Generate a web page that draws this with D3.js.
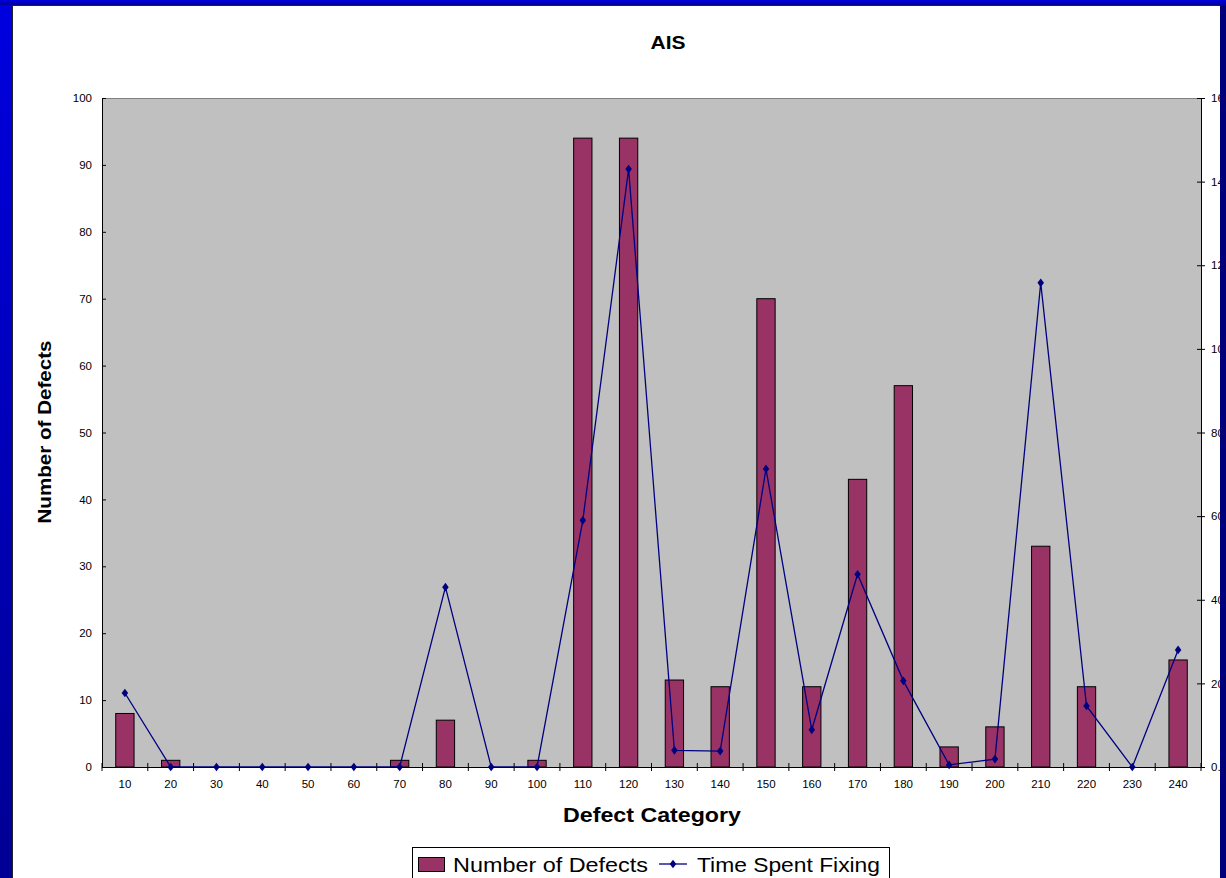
<!DOCTYPE html>
<html>
<head>
<meta charset="utf-8">
<script src="https://cdnjs.cloudflare.com/ajax/libs/d3/7.8.5/d3.min.js"></script>
<style>
    body { margin: 0; overflow: hidden; }
    svg { display: block; }
    text { font-family: "Liberation Sans", Arial, sans-serif; }
</style>
</head>
<body>
<div id="chart-area"></div>
<script>
// data
const categories = [10, 20, 30, 40, 50, 60, 70, 80, 90, 100, 110, 120,
    130, 140, 150, 160, 170, 180, 190, 200, 210, 220, 230, 240]
const defects = [8, 1, 0, 0, 0, 0, 1, 7, 0, 1, 94, 94,
    13, 12, 70, 12, 43, 57, 3, 6, 33, 12, 0, 16]
const timeSpent = [17.7, 0, 0, 0, 0, 0, 0, 43, 0, 0, 59, 143,
    4, 3.8, 71.3, 8.9, 46.1, 20.6, 0.5, 1.9, 115.8, 14.6, 0, 28]
const leftTicks = [0, 10, 20, 30, 40, 50, 60, 70, 80, 90, 100]
const rightTicks = [0, 20, 40, 60, 80, 100, 120, 140, 160]
const rightTickLabels = ['0.0', '20.0', '40.0', '60.0', '80.0', '100.0', '120.0', '140.0', '160.0']

const canvas = { width: 1226, height: 878 }
const margin = { left: 102, top: 98 }
const group = { width: 1099, height: 669 }

let svg = d3.select('#chart-area')
    .append('svg')
    .attr('width', canvas.width)
    .attr('height', canvas.height)

// blue slide background
let grad = svg.append('defs').append('linearGradient')
    .attr('id', 'bg').attr('x1', 0).attr('y1', 0).attr('x2', 0).attr('y2', 1)
grad.append('stop').attr('offset', '0%').attr('stop-color', '#0000e0')
grad.append('stop').attr('offset', '100%').attr('stop-color', '#000094')
svg.append('rect')
    .attr('width', canvas.width).attr('height', canvas.height)
    .attr('fill', 'url(#bg)')

// white chart panel
svg.append('rect')
    .attr('x', 12.5).attr('y', 5.5)
    .attr('width', 1208).attr('height', 900)
    .attr('fill', '#fff')
    .attr('stroke', '#222')

let g = svg.append('g')
    .attr('transform', `translate(${margin.left},${margin.top})`)

// scales
let scaleX = d3.scaleBand()
    .domain(categories)
    .range([0, group.width])

let scaleY = d3.scaleLinear()
    .domain([0, 100])
    .range([group.height, 0])

let scaleY2 = d3.scaleLinear()
    .domain([0, 160])
    .range([group.height, 0])

// plot area
g.append('rect')
    .attr('width', group.width).attr('height', group.height)
    .attr('fill', '#c0c0c0')
g.append('line')
    .attr('x1', 0).attr('x2', group.width)
    .attr('y1', 0.5).attr('y2', 0.5)
    .attr('stroke', '#808080')

// bars
let barW = scaleX.bandwidth() * 0.4
g.selectAll('rect.bar')
    .data(categories)
    .enter()
    .append('rect')
    .attr('class', 'bar')
    .attr('x', (d, i) => scaleX(d) + (scaleX.bandwidth() - barW) / 2)
    .attr('y', (d, i) => scaleY(defects[i]))
    .attr('width', barW)
    .attr('height', (d, i) => group.height - scaleY(defects[i]))
    .attr('fill', '#993366')
    .attr('stroke', '#000')
    .attr('stroke-width', 1)

// line
let cx = d => scaleX(d) + scaleX.bandwidth() / 2
let line = d3.line()
    .x((d, i) => cx(categories[i]))
    .y(d => scaleY2(d))
g.append('path')
    .datum(timeSpent)
    .attr('d', line)
    .attr('fill', 'none')
    .attr('stroke', '#000080')
    .attr('stroke-width', 1.3)

let diamond = d3.symbol().type(d3.symbolDiamond).size(22)
g.selectAll('path.pt')
    .data(timeSpent)
    .enter()
    .append('path')
    .attr('class', 'pt')
    .attr('d', diamond)
    .attr('transform', (d, i) => `translate(${cx(categories[i])},${scaleY2(d)}) scale(1.3,1)`)
    .attr('fill', '#000080')

// axes
function styleAxis(sel) {
    sel.select('.domain').attr('stroke', '#000')
    sel.selectAll('.tick line').attr('stroke', '#000')
    sel.selectAll('.tick text')
        .attr('fill', '#000')
        .attr('font-size', 11.5)
        .attr('font-family', '"Liberation Sans", Arial, sans-serif')
}

let yAxis = d3.axisLeft(scaleY)
    .tickValues(leftTicks)
    .tickSizeInner(4).tickSizeOuter(0).tickPadding(6)
let yg = g.append('g').call(yAxis).call(styleAxis)
yg.selectAll('.tick line').attr('x2', 4)

let yAxis2 = d3.axisRight(scaleY2)
    .tickValues(rightTicks)
    .tickFormat((d, i) => rightTickLabels[i])
    .tickSizeInner(4).tickSizeOuter(0).tickPadding(6)
let yg2 = g.append('g')
    .attr('transform', `translate(${group.width},0)`)
    .call(yAxis2).call(styleAxis)
yg2.selectAll('.tick line').attr('x1', -4)

let xAxis = d3.axisBottom(scaleX)
    .tickSize(0).tickPadding(13)
let xg = g.append('g')
    .attr('transform', `translate(0, ${group.height})`)
    .call(xAxis).call(styleAxis)
// tick marks sit between categories
xg.selectAll('line.sep')
    .data(categories.concat([null]))
    .enter()
    .append('line')
    .attr('class', 'sep')
    .attr('x1', (d, i) => i * scaleX.step())
    .attr('x2', (d, i) => i * scaleX.step())
    .attr('y1', -4).attr('y2', 4)
    .attr('stroke', '#000')

// titles
svg.append('text')
    .attr('x', 668).attr('y', 49)
    .attr('text-anchor', 'middle')
    .attr('font-weight', 'bold')
    .attr('font-size', 18)
    .attr('textLength', 35)
    .attr('lengthAdjust', 'spacingAndGlyphs')
    .text('AIS')

svg.append('text')
    .attr('x', 652).attr('y', 822)
    .attr('text-anchor', 'middle')
    .attr('font-weight', 'bold')
    .attr('font-size', 21)
    .attr('textLength', 178)
    .attr('lengthAdjust', 'spacingAndGlyphs')
    .text('Defect Category')

svg.append('text')
    .attr('transform', 'translate(51,432) rotate(-90)')
    .attr('text-anchor', 'middle')
    .attr('font-weight', 'bold')
    .attr('font-size', 19)
    .attr('textLength', 183)
    .attr('lengthAdjust', 'spacingAndGlyphs')
    .text('Number of Defects')

// legend
let lg = svg.append('g')
lg.append('rect')
    .attr('x', 412.5).attr('y', 847.5)
    .attr('width', 477).attr('height', 60)
    .attr('fill', '#fff').attr('stroke', '#000')
lg.append('rect')
    .attr('x', 418.5).attr('y', 857.5)
    .attr('width', 26).attr('height', 14)
    .attr('fill', '#993366').attr('stroke', '#000')
lg.append('text')
    .attr('x', 453).attr('y', 872)
    .attr('font-size', 20)
    .attr('textLength', 195)
    .attr('lengthAdjust', 'spacingAndGlyphs')
    .text('Number of Defects')
lg.append('line')
    .attr('x1', 659).attr('x2', 687)
    .attr('y1', 864).attr('y2', 864)
    .attr('stroke', '#000080').attr('stroke-width', 1.3)
lg.append('path')
    .attr('d', diamond)
    .attr('transform', 'translate(673,864) scale(1.3,1)')
    .attr('fill', '#000080')
lg.append('text')
    .attr('x', 697).attr('y', 872)
    .attr('font-size', 20)
    .attr('textLength', 183)
    .attr('lengthAdjust', 'spacingAndGlyphs')
    .text('Time Spent Fixing')

// navy frame on the right cuts the chart
svg.append('rect')
    .attr('x', 1220).attr('y', 0)
    .attr('width', 6).attr('height', canvas.height)
    .attr('fill', '#00007a')
svg.append('rect')
    .attr('x', 0).attr('y', 0)
    .attr('width', canvas.width).attr('height', 5)
    .attr('fill', 'url(#bg)')
</script>
</body>
</html>
